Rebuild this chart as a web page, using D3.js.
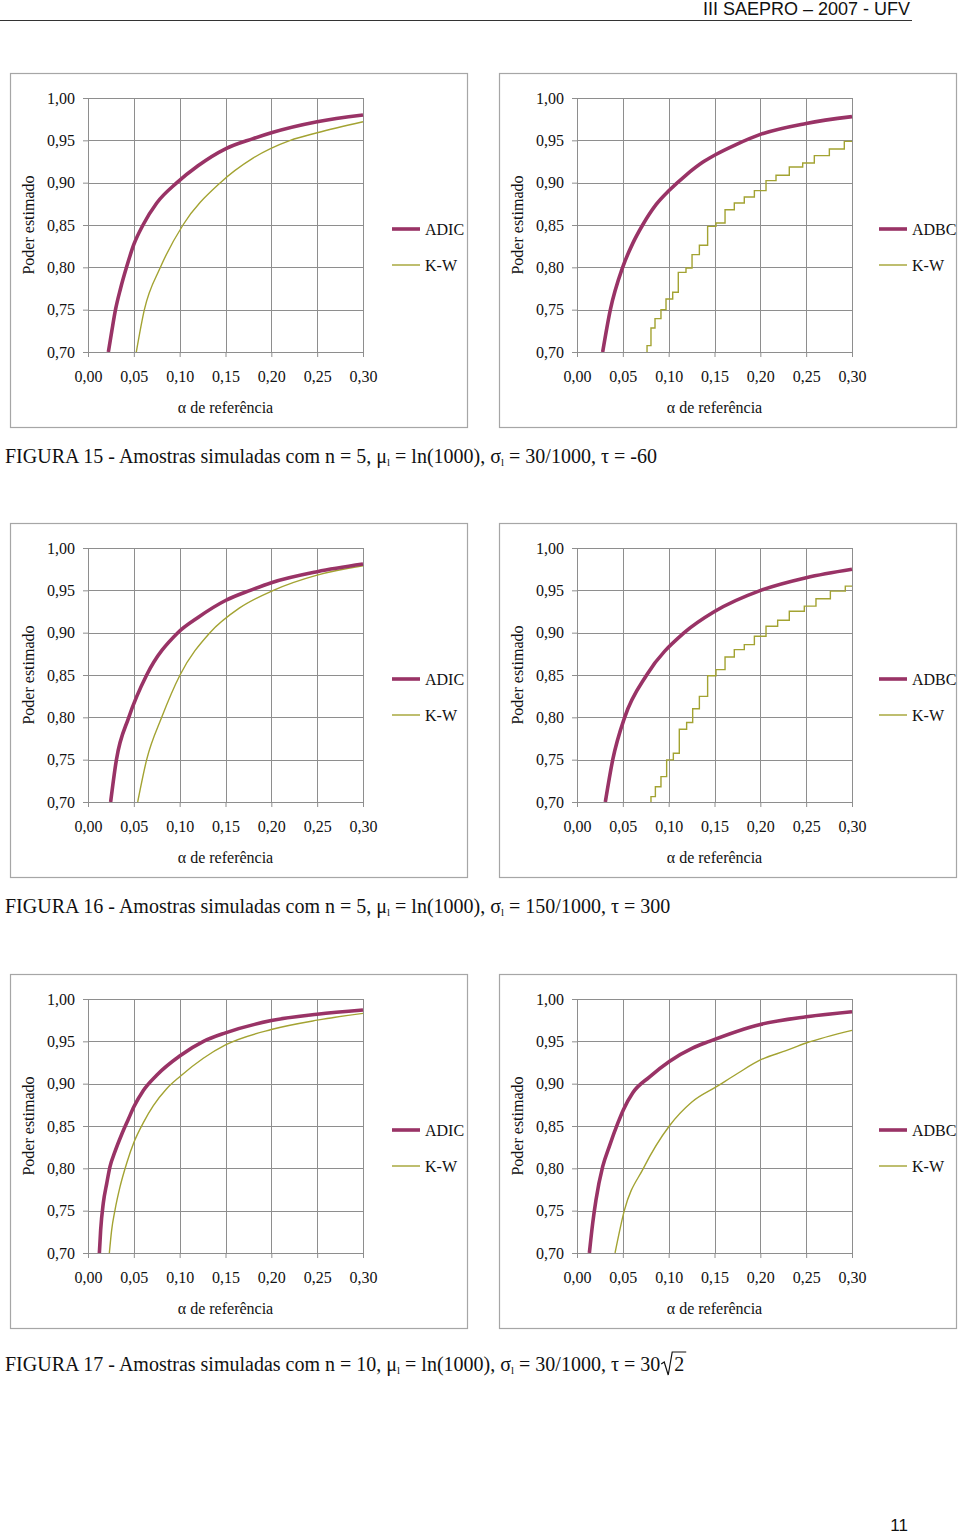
<!DOCTYPE html>
<html><head><meta charset="utf-8">
<script src="https://cdn.jsdelivr.net/npm/d3@7"></script>
<style>body{margin:0;background:#fff}svg{display:block}</style>
</head><body>
<svg id="page" width="960" height="1534"></svg>
<script>
// ---------- tick labels ----------
const xTicks = [0, 0.05, 0.10, 0.15, 0.20, 0.25, 0.30];
const yTicks = [0.70, 0.75, 0.80, 0.85, 0.90, 0.95, 1.00];
const xTitle = "α de referência";
const yTitle = "Poder estimado";
const headerText = "III SAEPRO – 2007 - UFV";
const pageNumber = "11";

// ---------- series values [alpha, power] ----------
// Figure 15
const adic15 = [[0.0222,0.700],[0.0260,0.725],[0.0300,0.750],[0.0355,0.775],[0.0420,0.800],[0.050,0.827],[0.060,0.850],[0.075,0.876],[0.097,0.900],[0.120,0.920],[0.150,0.940],[0.180,0.952],[0.200,0.959],[0.250,0.972],[0.300,0.980]];
const kwA15 = [[0.0527,0.700],[0.0615,0.750],[0.079,0.800],[0.1036,0.850],[0.1444,0.900],[0.180,0.929],[0.2207,0.950],[0.250,0.959],[0.300,0.972]];
const adbc15 = [[0.028,0.700],[0.0364,0.750],[0.0498,0.800],[0.0607,0.828],[0.0716,0.850],[0.0862,0.874],[0.1007,0.891],[0.119,0.909],[0.137,0.924],[0.151,0.933],[0.1735,0.945],[0.200,0.957],[0.250,0.970],[0.300,0.978]];
const kwB15 = [[0.0764,0.700],[0.0764,0.7075],[0.0807,0.7283],[0.0851,0.7394],[0.0916,0.7500],[0.0971,0.7626],[0.1044,0.7705],[0.1105,0.7941],[0.1189,0.7992],[0.1255,0.8150],[0.1335,0.8260],[0.1425,0.8484],[0.1516,0.8524],[0.1615,0.8681],[0.1716,0.8760],[0.1825,0.8831],[0.1935,0.8906],[0.2062,0.9024],[0.2171,0.9087],[0.2316,0.9185],[0.2462,0.9232],[0.2589,0.9319],[0.2753,0.9398],[0.2916,0.9488],[0.300,0.9488]];
// Figure 16
const adic16 = [[0.0247,0.700],[0.031,0.750],[0.0445,0.800],[0.064,0.850],[0.098,0.900],[0.120,0.918],[0.150,0.938],[0.177,0.950],[0.200,0.959],[0.250,0.972],[0.300,0.981]];
const kwA16 = [[0.0542,0.700],[0.064,0.750],[0.0804,0.800],[0.1004,0.850],[0.133,0.900],[0.165,0.929],[0.2022,0.950],[0.250,0.968],[0.300,0.979]];
const adbc16 = [[0.0309,0.700],[0.039,0.750],[0.052,0.800],[0.076,0.850],[0.117,0.900],[0.150,0.925],[0.2004,0.950],[0.250,0.965],[0.300,0.975]];
const kwB16 = [[0.0807,0.700],[0.0807,0.7063],[0.0855,0.7181],[0.0916,0.7300],[0.0978,0.7497],[0.1051,0.7576],[0.1116,0.7860],[0.1196,0.7939],[0.1262,0.8101],[0.1335,0.8247],[0.1425,0.8492],[0.1516,0.8563],[0.1615,0.8713],[0.1716,0.8800],[0.1825,0.8859],[0.1935,0.8958],[0.2062,0.9076],[0.2189,0.9147],[0.2316,0.9253],[0.2480,0.9313],[0.2607,0.9400],[0.2764,0.9491],[0.2927,0.9550],[0.300,0.9550]];
// Figure 17
const adic17 = [[0.0124,0.700],[0.0138,0.727],[0.0167,0.759],[0.0204,0.782],[0.024,0.802],[0.0295,0.820],[0.0367,0.840],[0.044,0.858],[0.0502,0.873],[0.0604,0.892],[0.0749,0.910],[0.1004,0.933],[0.126,0.950],[0.150,0.960],[0.200,0.9745],[0.250,0.982],[0.300,0.987]];
const kwA17 = [[0.0233,0.700],[0.0258,0.727],[0.0295,0.751],[0.0349,0.778],[0.0422,0.806],[0.0502,0.831],[0.0604,0.854],[0.0713,0.874],[0.0858,0.894],[0.1004,0.9085],[0.1258,0.930],[0.1505,0.946],[0.200,0.964],[0.250,0.975],[0.300,0.983]];
const adbc17 = [[0.0135,0.700],[0.0171,0.735],[0.0207,0.7627],[0.028,0.802],[0.0353,0.826],[0.0444,0.853],[0.0505,0.869],[0.0607,0.889],[0.0789,0.9078],[0.1007,0.9263],[0.126,0.942],[0.1444,0.950],[0.200,0.970],[0.250,0.979],[0.300,0.985]];
const kwB17 = [[0.0415,0.700],[0.0516,0.750],[0.0724,0.800],[0.1007,0.850],[0.125,0.878],[0.1531,0.897],[0.175,0.912],[0.200,0.928],[0.228,0.939],[0.250,0.948],[0.300,0.963]];

// ---------- captions ----------
const captions = [
  {num:"15", n:"5", sigma:"30/1000", tau:"-60", sqrt:null},
  {num:"16", n:"5", sigma:"150/1000", tau:"300", sqrt:null},
  {num:"17", n:"10", sigma:"30/1000", tau:"30 ", sqrt:"2"}
];

// ---------- layout ----------
const COL_X = [10, 499];
const ROW_Y = [73, 523, 974];
const CAP_Y = [463, 913, 1371];
const PURPLE = "#993366", OLIVE = "#a3a332", GRID = "#8e8e8e", FRAME = "#a6a6a6";
const SERIF = "'Liberation Serif','Times New Roman',serif";
const SANS = "'Liberation Sans',Arial,sans-serif";

const charts = [
  {col:0,row:0,name:"ADIC",main:adic15,kw:kwA15,step:false},
  {col:1,row:0,name:"ADBC",main:adbc15,kw:kwB15,step:true},
  {col:0,row:1,name:"ADIC",main:adic16,kw:kwA16,step:false},
  {col:1,row:1,name:"ADBC",main:adbc16,kw:kwB16,step:true},
  {col:0,row:2,name:"ADIC",main:adic17,kw:kwA17,step:false},
  {col:1,row:2,name:"ADBC",main:adbc17,kw:kwB17,step:false}
];

const svg = d3.select("#page");
svg.append("rect").attr("width",960).attr("height",1534).attr("fill","#fff");

// header
svg.append("text").attr("x",910).attr("y",15).attr("text-anchor","end")
  .attr("font-family",SANS).attr("font-size",18).attr("fill","#111").text(headerText);
svg.append("line").attr("x1",0).attr("x2",912).attr("y1",20.5).attr("y2",20.5)
  .attr("stroke","#333").attr("stroke-width",1);

const fmt = v => d3.format(".2f")(v).replace(".", ",");

charts.forEach((c, i) => {
  const fx = COL_X[c.col], fy = ROW_Y[c.row];
  const g = svg.append("g").attr("transform",`translate(${fx},${fy})`);
  g.append("rect").attr("x",0.5).attr("y",0.5).attr("width",457).attr("height",354)
    .attr("fill","#fff").attr("stroke",FRAME).attr("stroke-width",1.2);

  const x = d3.scaleLinear().domain([0,0.30]).range([78,353]);
  const y = d3.scaleLinear().domain([0.70,1.00]).range([279,25]);

  // grid
  g.append("g").selectAll("line").data(xTicks).join("line")
    .attr("x1",d=>Math.round(x(d))+0.5).attr("x2",d=>Math.round(x(d))+0.5)
    .attr("y1",y(1.0)).attr("y2",y(0.70))
    .attr("stroke",GRID).attr("stroke-width",1);
  g.append("g").selectAll("line").data(yTicks).join("line")
    .attr("x1",x(0)).attr("x2",x(0.30))
    .attr("y1",d=>Math.round(y(d))+0.5).attr("y2",d=>Math.round(y(d))+0.5)
    .attr("stroke",GRID).attr("stroke-width",1);

  // axes
  const ax = g.append("g").attr("transform",`translate(0,${y(0.70)})`)
    .call(d3.axisBottom(x).tickValues(xTicks).tickFormat(fmt).tickSize(5).tickSizeOuter(0).tickPadding(14));
  const ay = g.append("g").attr("transform",`translate(${x(0)},0)`)
    .call(d3.axisLeft(y).tickValues(yTicks).tickFormat(fmt).tickSize(5).tickSizeOuter(0).tickPadding(8));
  [ax, ay].forEach(a => {
    a.attr("font-family",SERIF).attr("font-size",16);
    a.selectAll("path,line").attr("stroke",GRID);
    a.selectAll("text").attr("fill","#111");
  });

  // titles
  g.append("text").attr("x",(x(0)+x(0.30))/2).attr("y",340).attr("text-anchor","middle")
    .attr("font-family",SERIF).attr("font-size",16).attr("fill","#111").text(xTitle);
  g.append("text").attr("transform",`translate(24,${(y(0.70)+y(1.0))/2}) rotate(-90)`)
    .attr("text-anchor","middle").attr("font-family",SERIF).attr("font-size",16)
    .attr("fill","#111").text(yTitle);

  // clip
  const cid = "clip"+i;
  g.append("clipPath").attr("id",cid).append("rect")
    .attr("x",x(0)).attr("y",y(1.0)-4).attr("width",x(0.30)-x(0)+4).attr("height",y(0.70)-y(1.0)+4);

  const lineMain = d3.line().x(d=>x(d[0])).y(d=>y(d[1])).curve(d3.curveMonotoneX);
  const lineKW = d3.line().x(d=>x(d[0])).y(d=>y(d[1]))
    .curve(c.step ? d3.curveStepAfter : d3.curveMonotoneX);

  g.append("path").datum(c.kw).attr("d",lineKW).attr("clip-path",`url(#${cid})`)
    .attr("fill","none").attr("stroke",OLIVE).attr("stroke-width",1.4);
  g.append("path").datum(c.main).attr("d",lineMain).attr("clip-path",`url(#${cid})`)
    .attr("fill","none").attr("stroke",PURPLE).attr("stroke-width",3.6)
    .attr("stroke-linejoin","round");

  // legend
  const lx = c.col === 0 ? 382 : 380;
  const leg = [{name:c.name,color:PURPLE,w:3.6,yy:156},{name:"K-W",color:OLIVE,w:1.4,yy:192}];
  leg.forEach(l => {
    g.append("line").attr("x1",lx).attr("x2",lx+28).attr("y1",l.yy).attr("y2",l.yy)
      .attr("stroke",l.color).attr("stroke-width",l.w);
    g.append("text").attr("x",lx+33).attr("y",l.yy+5.5).attr("font-family",SERIF)
      .attr("font-size",16).attr("fill","#111").text(l.name);
  });
});

// captions
captions.forEach((cap, i) => {
  const t = svg.append("text").attr("x",5).attr("y",CAP_Y[i]).attr("font-family",SERIF)
    .attr("font-size",20).attr("fill","#111");
  t.append("tspan").text(`FIGURA ${cap.num} - Amostras simuladas com n = ${cap.n}, μ`);
  t.append("tspan").attr("font-size",11).attr("dy",3).text("l");
  t.append("tspan").attr("dy",-3).text(" = ln(1000), σ");
  t.append("tspan").attr("font-size",11).attr("dy",3).text("l");
  t.append("tspan").attr("dy",-3).text(` = ${cap.sigma}, τ = ${cap.tau}`);
  if (cap.sqrt) {
    const end = 5 + t.node().getComputedTextLength();
    const by = CAP_Y[i];
    svg.append("path")
      .attr("d",`M${end+1},${by-7} L${end+4},${by-9} L${end+8},${by+4} L${end+12},${by-19} L${end+26},${by-19}`)
      .attr("fill","none").attr("stroke","#111").attr("stroke-width",1.2);
    svg.append("text").attr("x",end+14).attr("y",by).attr("font-family",SERIF)
      .attr("font-size",20).attr("fill","#111").text(cap.sqrt);
  }
});

// page number
svg.append("text").attr("x",908).attr("y",1531).attr("text-anchor","end")
  .attr("font-family",SANS).attr("font-size",17).attr("fill","#111").text(pageNumber);
</script>
</body></html>
